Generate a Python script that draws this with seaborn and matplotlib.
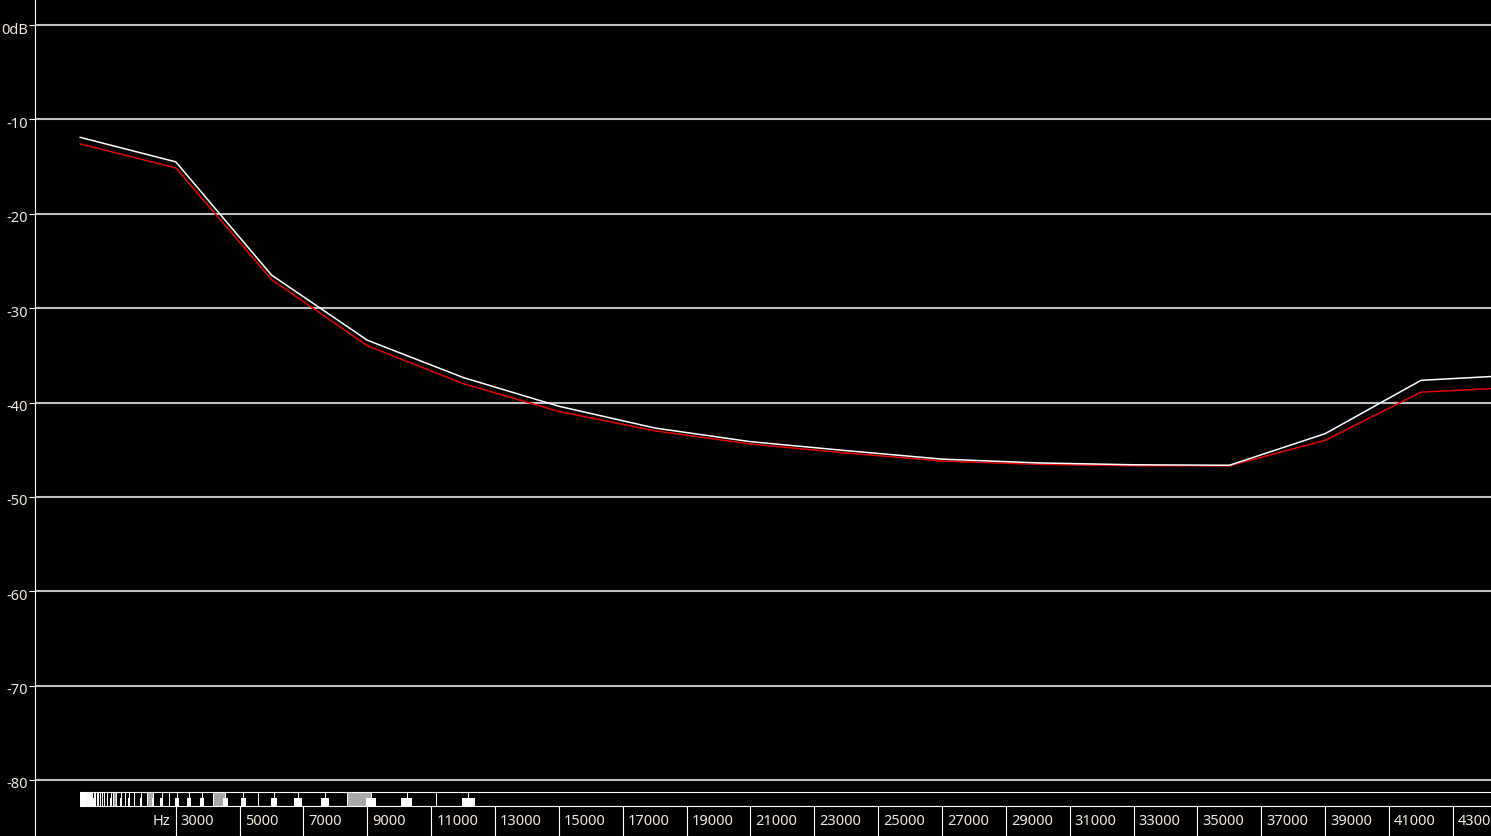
import numpy as np
import pandas as pd
import matplotlib
matplotlib.use("Agg")
import matplotlib.pyplot as plt
import matplotlib.transforms as mtransforms
import seaborn as sns
from matplotlib.patches import Rectangle

# spectrum values, one point every 3000 Hz
freqs = [0, 3000, 6000, 9000, 12000, 15000, 18000, 21000, 24000, 27000,
         30000, 33000, 36000, 39000, 42000, 45000]
level_white = [-11.9, -14.5, -26.5, -33.4, -37.35, -40.4, -42.7, -44.15, -45.1,
               -46.0, -46.4, -46.6, -46.65, -43.3, -37.65, -37.1]
level_red = [-12.6, -15.15, -27.0, -34.0, -38.0, -40.95, -43.0, -44.4, -45.35,
             -46.2, -46.55, -46.7, -46.7, -44.0, -38.9, -38.4]

db_ticks = [0, -10, -20, -30, -40, -50, -60, -70, -80]
db_labels = ["0dB", "-10", "-20", "-30", "-40", "-50", "-60", "-70", "-80"]
hz_ticks = list(range(3000, 44000, 2000))

MIDI_LOW, MIDI_HIGH = 0, 127
TUNING_A4 = 452.0

W, H = 1491, 836
HZ_PER_PX = 31.32
X0_PX = 80          # pixel of 0 Hz
XMIN = (35 - X0_PX) * HZ_PER_PX
XMAX = (W - X0_PX) * HZ_PER_PX
YTOP = 25 / 9.4375
YBOT = -(791 - 25) / 9.4375

TEXT = "#f0e8e0"
GRID = "#c0c0c0"

sns.set_theme(style="dark")
plt.rcParams["font.family"] = ["Noto Sans", "DejaVu Sans"]

fig = plt.figure(figsize=(W / 100, H / 100), dpi=100, facecolor="black")
ax = fig.add_axes([35 / W, 45 / H, (W - 35) / W, 791 / H])
strip = fig.add_axes([35 / W, 0, (W - 35) / W, 45 / H])

for a in (ax, strip):
    a.set_facecolor("black")
    for s in ("top", "right", "bottom"):
        a.spines[s].set_visible(False)
    a.spines["left"].set_color("white")
    a.spines["left"].set_linewidth(0.8)
    a.set_xlim(XMIN, XMAX)
    a.grid(False)

df = pd.DataFrame({"freq": freqs, "white": level_white, "red": level_red})
sns.lineplot(data=df, x="freq", y="red", ax=ax, color="#e60000", lw=1.1)
sns.lineplot(data=df, x="freq", y="white", ax=ax, color="white", lw=1.1)

ax.set_ylim(YBOT, YTOP)
ax.set_yticks(db_ticks)
ax.set_yticklabels(db_labels)
for t in db_ticks:
    ax.axhline(t, color=GRID, lw=1.5, zorder=0)
ax.set_xticks([])
ax.set_xlabel("")
ax.set_ylabel("")
ax.tick_params(axis="y", colors="white", labelcolor=TEXT, length=4.3, width=0.8,
               pad=1, labelsize=10.5, left=True)
shift = mtransforms.ScaledTranslation(0, -3 / 100, fig.dpi_scale_trans)
for lbl in ax.get_yticklabels():
    lbl.set_transform(lbl.get_transform() + shift)

# keyboard strip + frequency label row (y in pixels from strip top)
strip.set_ylim(45, 0)
strip.set_yticks([])
strip.set_xticks([])
strip.hlines([0.5, 15], 0, XMAX, color="white", lw=0.8)

notes = np.arange(MIDI_LOW, MIDI_HIGH + 1)
nf = TUNING_A4 * 2.0 ** ((notes - 69) / 12)
black = np.isin(notes % 12, [1, 3, 6, 8, 10])
half = 2.0 ** (1 / 24)

for n, f in zip(notes, nf):
    if n % 12 == 0 and n + 1 <= MIDI_HIGH:
        strip.add_patch(Rectangle((f / half, 0.5), nf[n + 1 - MIDI_LOW] - f / half, 14.5,
                                  color="#a8a8a8", lw=0, zorder=1))
bounds = []
for n, f, b in zip(notes, nf, black):
    if b:
        bounds.append(f)
    elif n % 12 in (4, 11) and n < MIDI_HIGH:
        bounds.append(f * half)
strip.vlines(bounds, 0.5, 15, color="white", lw=0.7, zorder=2)
for f in nf[black]:
    w = 0.033 * f
    strip.add_patch(Rectangle((f - w / 2, 7), w, 8, color="white", lw=0, zorder=3))

strip.vlines(hz_ticks, 15, 45, color="white", lw=0.8)
for f in hz_ticks:
    strip.text(f + 5 * HZ_PER_PX, 30.5, str(f), color=TEXT, fontsize=10.5,
               ha="left", va="center")
strip.text(hz_ticks[0] - 5 * HZ_PER_PX, 30.5, "Hz", color=TEXT, fontsize=10.5,
           ha="right", va="center")

fig.savefig("out.png", dpi=100, facecolor="black")
